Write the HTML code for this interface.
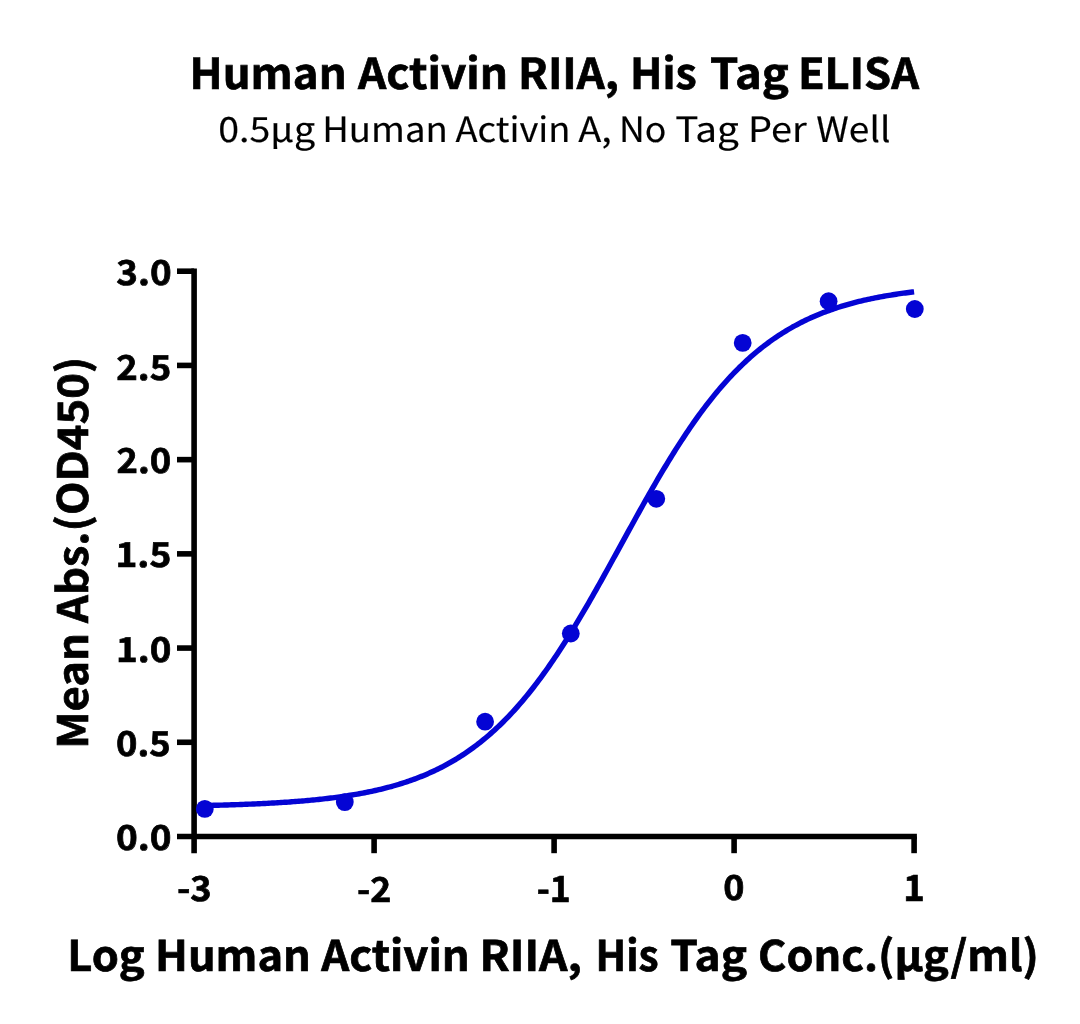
<!DOCTYPE html>
<html><head><meta charset="utf-8"><title>Human Activin RIIA, His Tag ELISA</title><style>
html,body{margin:0;padding:0;background:#fff;width:1080px;height:1024px;overflow:hidden}
svg{position:absolute;left:0;top:0;will-change:transform}
text{font-family:"Noto Sans CJK SC","Noto Sans CJK JP","Liberation Sans",sans-serif;fill:#000;text-rendering:geometricPrecision}
.b{font-weight:700;stroke:#000;stroke-width:0.7px}
.r{font-weight:400;stroke:#000;stroke-width:0.15px}
</style></head><body>
<svg width="1080" height="1024" viewBox="0 0 1080 1024">
<text class="b" x="189.60" y="88.71" font-size="42.54" textLength="157.08" lengthAdjust="spacingAndGlyphs">Human</text>
<text class="b" x="357.94" y="88.71" font-size="42.54" textLength="150.04" lengthAdjust="spacingAndGlyphs">Activin</text>
<text class="b" x="518.11" y="88.71" font-size="42.54" textLength="100.91" lengthAdjust="spacingAndGlyphs">RIIA,</text>
<text class="b" x="630.06" y="88.71" font-size="42.54" textLength="66.64" lengthAdjust="spacingAndGlyphs">His</text>
<text class="b" x="709.91" y="88.71" font-size="42.54" textLength="78.99" lengthAdjust="spacingAndGlyphs">Tag</text>
<text class="b" x="797.92" y="88.71" font-size="42.54" textLength="121.11" lengthAdjust="spacingAndGlyphs">ELISA</text>
<text class="r" x="218.29" y="141.91" font-size="34.66" textLength="96.78" lengthAdjust="spacingAndGlyphs">0.5μg</text>
<text class="r" x="322.21" y="141.91" font-size="34.66" textLength="125.57" lengthAdjust="spacingAndGlyphs">Human</text>
<text class="r" x="455.49" y="141.91" font-size="34.66" textLength="115.01" lengthAdjust="spacingAndGlyphs">Activin</text>
<text class="r" x="578.21" y="141.91" font-size="34.66" textLength="33.62" lengthAdjust="spacingAndGlyphs">A,</text>
<text class="r" x="619.09" y="141.91" font-size="34.66" textLength="47.39" lengthAdjust="spacingAndGlyphs">No</text>
<text class="r" x="675.27" y="141.91" font-size="34.66" textLength="63.69" lengthAdjust="spacingAndGlyphs">Tag</text>
<text class="r" x="747.98" y="141.91" font-size="34.66" textLength="58.74" lengthAdjust="spacingAndGlyphs">Per</text>
<text class="r" x="816.32" y="141.91" font-size="34.66" textLength="74.13" lengthAdjust="spacingAndGlyphs">Well</text>
<text class="b" x="67.19" y="971.41" font-size="42.10" textLength="77.57" lengthAdjust="spacingAndGlyphs">Log</text>
<text class="b" x="155.13" y="971.41" font-size="42.10" textLength="155.79" lengthAdjust="spacingAndGlyphs">Human</text>
<text class="b" x="321.18" y="971.41" font-size="42.10" textLength="148.56" lengthAdjust="spacingAndGlyphs">Activin</text>
<text class="b" x="479.47" y="971.41" font-size="42.10" textLength="102.57" lengthAdjust="spacingAndGlyphs">RIIA,</text>
<text class="b" x="595.56" y="971.41" font-size="42.10" textLength="63.15" lengthAdjust="spacingAndGlyphs">His</text>
<text class="b" x="670.21" y="971.41" font-size="42.10" textLength="76.97" lengthAdjust="spacingAndGlyphs">Tag</text>
<text class="b" x="758.03" y="971.41" font-size="42.10" textLength="280.96" lengthAdjust="spacingAndGlyphs">Conc.(μg/ml)</text>
<text class="b" transform="translate(88.02 748.77) rotate(-90)" font-size="41.80" textLength="115.81" lengthAdjust="spacingAndGlyphs">Mean</text>
<text class="b" transform="translate(88.02 623.05) rotate(-90)" font-size="41.80" textLength="266.41" lengthAdjust="spacingAndGlyphs">Abs.(OD450)</text>
<text class="b" x="116.38" y="284.85" font-size="34.30" textLength="55.31" lengthAdjust="spacingAndGlyphs">3.0</text>
<text class="b" x="116.31" y="379.76" font-size="34.30" textLength="54.97" lengthAdjust="spacingAndGlyphs">2.5</text>
<text class="b" x="116.55" y="473.03" font-size="34.30" textLength="54.77" lengthAdjust="spacingAndGlyphs">2.0</text>
<text class="b" x="115.47" y="566.85" font-size="34.30" textLength="55.85" lengthAdjust="spacingAndGlyphs">1.5</text>
<text class="b" x="116.04" y="661.91" font-size="34.30" textLength="55.28" lengthAdjust="spacingAndGlyphs">1.0</text>
<text class="b" x="116.10" y="755.70" font-size="34.30" textLength="54.65" lengthAdjust="spacingAndGlyphs">0.5</text>
<text class="b" x="115.90" y="850.23" font-size="34.30" textLength="55.50" lengthAdjust="spacingAndGlyphs">0.0</text>
<text class="b" x="176.93" y="900.53" font-size="34.30" textLength="34.77" lengthAdjust="spacingAndGlyphs">-3</text>
<text class="b" x="356.94" y="901.53" font-size="34.30" textLength="34.31" lengthAdjust="spacingAndGlyphs">-2</text>
<text class="b" x="536.75" y="901.58" font-size="36.00" textLength="34.00" lengthAdjust="spacingAndGlyphs">-1</text>
<text class="b" x="723.24" y="900.36" font-size="34.30" textLength="21.22" lengthAdjust="spacingAndGlyphs">0</text>
<text class="b" x="903.28" y="900.89" font-size="36.00" textLength="21.51" lengthAdjust="spacingAndGlyphs">1</text>
<g stroke="#000" stroke-width="5.6" fill="none"><path d="M194.1 268.6V853.2"/><path d="M177.0 836.5H916.9"/><path d="M177.0 271.21H194.1"/><path d="M177.0 365.42H194.1"/><path d="M177.0 459.64H194.1"/><path d="M177.0 553.86H194.1"/><path d="M177.0 648.07H194.1"/><path d="M177.0 742.28H194.1"/><path d="M374.10 836.5V853.2"/><path d="M554.10 836.5V853.2"/><path d="M734.10 836.5V853.2"/><path d="M914.10 836.5V853.2"/></g>
<polyline points="204.56,805.53 206.34,805.49 208.11,805.45 209.89,805.41 211.67,805.36 213.45,805.32 215.23,805.27 217.01,805.23 218.78,805.18 220.56,805.13 222.34,805.08 224.12,805.03 225.90,804.98 227.68,804.93 229.45,804.87 231.23,804.82 233.01,804.76 234.79,804.70 236.57,804.64 238.35,804.58 240.12,804.52 241.90,804.45 243.68,804.38 245.46,804.32 247.24,804.25 249.02,804.17 250.79,804.10 252.57,804.03 254.35,803.95 256.13,803.87 257.91,803.79 259.69,803.71 261.46,803.62 263.24,803.54 265.02,803.45 266.80,803.35 268.58,803.26 270.36,803.17 272.13,803.07 273.91,802.97 275.69,802.86 277.47,802.76 279.25,802.65 281.02,802.54 282.80,802.42 284.58,802.31 286.36,802.19 288.14,802.07 289.92,801.94 291.69,801.81 293.47,801.68 295.25,801.55 297.03,801.41 298.81,801.27 300.59,801.12 302.36,800.97 304.14,800.82 305.92,800.66 307.70,800.50 309.48,800.34 311.26,800.17 313.03,800.00 314.81,799.83 316.59,799.65 318.37,799.46 320.15,799.27 321.93,799.08 323.70,798.88 325.48,798.68 327.26,798.47 329.04,798.26 330.82,798.04 332.60,797.81 334.37,797.59 336.15,797.35 337.93,797.11 339.71,796.86 341.49,796.61 343.27,796.36 345.04,796.09 346.82,795.82 348.60,795.54 350.38,795.26 352.16,794.97 353.94,794.67 355.71,794.37 357.49,794.06 359.27,793.74 361.05,793.41 362.83,793.08 364.61,792.73 366.38,792.38 368.16,792.02 369.94,791.66 371.72,791.28 373.50,790.90 375.27,790.50 377.05,790.10 378.83,789.69 380.61,789.27 382.39,788.83 384.17,788.39 385.94,787.94 387.72,787.48 389.50,787.00 391.28,786.52 393.06,786.02 394.84,785.52 396.61,785.00 398.39,784.47 400.17,783.92 401.95,783.37 403.73,782.80 405.51,782.22 407.28,781.63 409.06,781.02 410.84,780.40 412.62,779.76 414.40,779.11 416.18,778.45 417.95,777.77 419.73,777.08 421.51,776.37 423.29,775.65 425.07,774.91 426.85,774.15 428.62,773.38 430.40,772.59 432.18,771.78 433.96,770.95 435.74,770.11 437.52,769.25 439.29,768.37 441.07,767.47 442.85,766.56 444.63,765.62 446.41,764.66 448.19,763.69 449.96,762.69 451.74,761.67 453.52,760.63 455.30,759.57 457.08,758.49 458.86,757.39 460.63,756.26 462.41,755.12 464.19,753.94 465.97,752.75 467.75,751.53 469.52,750.29 471.30,749.02 473.08,747.73 474.86,746.41 476.64,745.07 478.42,743.70 480.19,742.31 481.97,740.89 483.75,739.45 485.53,737.97 487.31,736.47 489.09,734.95 490.86,733.39 492.64,731.81 494.42,730.20 496.20,728.56 497.98,726.89 499.76,725.19 501.53,723.47 503.31,721.71 505.09,719.93 506.87,718.11 508.65,716.27 510.43,714.39 512.20,712.49 513.98,710.55 515.76,708.59 517.54,706.59 519.32,704.56 521.10,702.51 522.87,700.42 524.65,698.30 526.43,696.15 528.21,693.96 529.99,691.75 531.77,689.51 533.54,687.24 535.32,684.93 537.10,682.59 538.88,680.23 540.66,677.83 542.44,675.41 544.21,672.95 545.99,670.46 547.77,667.95 549.55,665.40 551.33,662.83 553.10,660.22 554.88,657.59 556.66,654.93 558.44,652.24 560.22,649.53 562.00,646.79 563.77,644.02 565.55,641.22 567.33,638.40 569.11,635.56 570.89,632.69 572.67,629.79 574.44,626.88 576.22,623.94 578.00,620.98 579.78,617.99 581.56,614.99 583.34,611.97 585.11,608.93 586.89,605.87 588.67,602.79 590.45,599.69 592.23,596.58 594.01,593.46 595.78,590.32 597.56,587.16 599.34,583.99 601.12,580.82 602.90,577.63 604.68,574.43 606.45,571.22 608.23,568.01 610.01,564.78 611.79,561.56 613.57,558.32 615.35,555.08 617.12,551.84 618.90,548.60 620.68,545.36 622.46,542.11 624.24,538.87 626.02,535.63 627.79,532.39 629.57,529.16 631.35,525.93 633.13,522.71 634.91,519.49 636.69,516.28 638.46,513.08 640.24,509.89 642.02,506.71 643.80,503.54 645.58,500.39 647.35,497.25 649.13,494.12 650.91,491.00 652.69,487.91 654.47,484.83 656.25,481.76 658.02,478.72 659.80,475.69 661.58,472.69 663.36,469.70 665.14,466.74 666.92,463.79 668.69,460.88 670.47,457.98 672.25,455.11 674.03,452.26 675.81,449.43 677.59,446.64 679.36,443.86 681.14,441.12 682.92,438.40 684.70,435.71 686.48,433.04 688.26,430.41 690.03,427.80 691.81,425.22 693.59,422.67 695.37,420.15 697.15,417.66 698.93,415.20 700.70,412.77 702.48,410.37 704.26,408.00 706.04,405.66 707.82,403.35 709.60,401.07 711.37,398.82 713.15,396.61 714.93,394.42 716.71,392.27 718.49,390.14 720.27,388.05 722.04,385.99 723.82,383.96 725.60,381.95 727.38,379.98 729.16,378.04 730.94,376.14 732.71,374.26 734.49,372.41 736.27,370.59 738.05,368.80 739.83,367.04 741.60,365.31 743.38,363.61 745.16,361.94 746.94,360.29 748.72,358.68 750.50,357.09 752.27,355.53 754.05,354.00 755.83,352.50 757.61,351.02 759.39,349.57 761.17,348.15 762.94,346.75 764.72,345.38 766.50,344.04 768.28,342.72 770.06,341.42 771.84,340.15 773.61,338.91 775.39,337.68 777.17,336.49 778.95,335.31 780.73,334.16 782.51,333.03 784.28,331.92 786.06,330.84 787.84,329.78 789.62,328.74 791.40,327.72 793.18,326.72 794.95,325.74 796.73,324.78 798.51,323.84 800.29,322.92 802.07,322.02 803.85,321.14 805.62,320.27 807.40,319.43 809.18,318.60 810.96,317.79 812.74,317.00 814.52,316.22 816.29,315.46 818.07,314.72 819.85,314.00 821.63,313.28 823.41,312.59 825.18,311.91 826.96,311.24 828.74,310.59 830.52,309.95 832.30,309.33 834.08,308.72 835.85,308.13 837.63,307.54 839.41,306.97 841.19,306.42 842.97,305.87 844.75,305.34 846.52,304.82 848.30,304.31 850.08,303.82 851.86,303.33 853.64,302.85 855.42,302.39 857.19,301.94 858.97,301.49 860.75,301.06 862.53,300.64 864.31,300.22 866.09,299.82 867.86,299.42 869.64,299.04 871.42,298.66 873.20,298.29 874.98,297.93 876.76,297.58 878.53,297.24 880.31,296.90 882.09,296.57 883.87,296.25 885.65,295.94 887.43,295.64 889.20,295.34 890.98,295.05 892.76,294.76 894.54,294.48 896.32,294.21 898.10,293.95 899.87,293.69 901.65,293.44 903.43,293.19 905.21,292.95 906.99,292.71 908.77,292.48 910.54,292.26 912.32,292.04 914.10,291.83" fill="none" stroke="#0404d4" stroke-width="5.4" stroke-linejoin="round"/>
<g fill="#0404d4"><circle cx="204.8" cy="808.9" r="8.9"/><circle cx="344.8" cy="802.1" r="8.9"/><circle cx="485.1" cy="721.7" r="8.9"/><circle cx="570.8" cy="633.5" r="8.9"/><circle cx="656.3" cy="498.8" r="8.9"/><circle cx="742.7" cy="342.9" r="8.9"/><circle cx="828.6" cy="301.2" r="8.9"/><circle cx="914.8" cy="309.0" r="8.9"/></g>
</svg>
</body></html>
